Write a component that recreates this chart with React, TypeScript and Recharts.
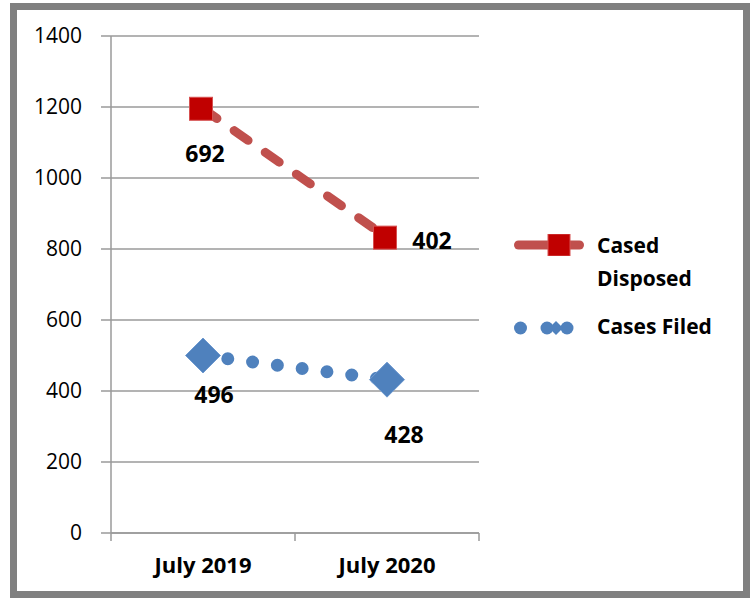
import { CartesianGrid, LabelList, Line, LineChart, XAxis, YAxis } from 'recharts'

const categories = ['July 2019', 'July 2020']
const casesDisposed = [1195, 832]
const casesDisposedLabels = [692, 402]
const casesFiled = [500, 432]
const casesFiledLabels = [496, 428]
const yTicks = [0, 200, 400, 600, 800, 1000, 1200, 1400]

const data = categories.map((month, i) => ({
  month,
  disposed: casesDisposed[i],
  disposedLabel: casesDisposedLabels[i],
  filed: casesFiled[i],
  filedLabel: casesFiledLabels[i],
}))

const FONT = '"Open Sans", sans-serif'
const GRID = '#9a9a9a'
const RED_LINE = '#C0504D'
const RED_MARK = '#C00000'
const BLUE = '#4F81BD'

const CHART_W = 726
const CHART_H = 581
const MARGIN = { top: 26, right: 264, bottom: 0, left: 0 }
const Y_W = 94
const PLOT_W = CHART_W - MARGIN.left - MARGIN.right - Y_W

// label offsets from each point (text centre), per series
const disposedOffsets = [
  [2, 44],
  [45, 2],
]
const filedOffsets = [
  [11, 38],
  [17, 54],
]

function MonthTick(props: any) {
  const { x, y, payload, index } = props
  const half = PLOT_W / categories.length / 2
  return (
    <g>
      {index === 0 && (
        <line x1={x - half} x2={x - half} y1={y} y2={y + 8} stroke={GRID} strokeWidth={1.5} />
      )}
      <line x1={x + half} x2={x + half} y1={y} y2={y + 8} stroke={GRID} strokeWidth={1.5} />
      <text
        x={x}
        y={y + 40}
        textAnchor="middle"
        fontFamily={FONT}
        fontWeight={700}
        fontSize={22}
        fill="#000"
      >
        {payload.value}
      </text>
    </g>
  )
}

const squareDot = (props: any) => {
  const { cx, cy, index } = props
  return (
    <rect
      key={`sq-${index}`}
      x={cx - 13.5}
      y={cy - 11.5}
      width={23}
      height={23}
      fill={RED_MARK}
      stroke="#d65050"
      strokeWidth={1}
    />
  )
}

const diamondDot = (props: any) => {
  const { cx, cy, index } = props
  const r = 17.5
  return (
    <path
      key={`dm-${index}`}
      d={`M${cx},${cy - r} L${cx + r},${cy} L${cx},${cy + r} L${cx - r},${cy} Z`}
      fill={BLUE}
      stroke="#6f9ad0"
      strokeWidth={1}
    />
  )
}

const makeLabel = (offsets: number[][]) => (props: any) => {
  const { x, y, value, index } = props
  const [dx, dy] = offsets[index] ?? [0, 0]
  return (
    <text
      key={`lb-${index}`}
      x={x + dx}
      y={y + dy}
      textAnchor="middle"
      dominantBaseline="central"
      fontFamily={FONT}
      fontWeight={700}
      fontSize={23}
      fill="#000"
    >
      {value}
    </text>
  )
}

const legendText: React.CSSProperties = {
  position: 'absolute',
  left: 580,
  fontFamily: FONT,
  fontWeight: 700,
  fontSize: 21,
  lineHeight: '33px',
  color: '#000',
  whiteSpace: 'nowrap',
}

export default function App() {
  return (
    <div
      style={{
        position: 'absolute',
        left: 10,
        top: 3,
        width: 740,
        height: 595,
        border: '7px solid #808080',
        boxSizing: 'border-box',
        background: '#fff',
        fontFamily: FONT,
      }}
    >
      <LineChart width={CHART_W} height={CHART_H} data={data} margin={MARGIN}>
        <CartesianGrid vertical={false} stroke={GRID} strokeWidth={1.5} />
        <XAxis
          dataKey="month"
          scale="band"
          height={58}
          axisLine={{ stroke: GRID, strokeWidth: 1.5 }}
          tickLine={false}
          tickSize={0}
          tickMargin={0}
          interval={0}
          tick={<MonthTick />}
        />
        <YAxis
          domain={[0, 1400]}
          ticks={yTicks}
          interval={0}
          width={Y_W}
          tickSize={10}
          tickMargin={19}
          axisLine={{ stroke: GRID, strokeWidth: 1.5 }}
          tickLine={{ stroke: GRID, strokeWidth: 1.5 }}
          tick={{ fontSize: 21, fill: '#000', fontFamily: FONT }}
        />
        <Line
          dataKey="filed"
          name="Cases Filed"
          stroke={BLUE}
          strokeWidth={13}
          strokeDasharray="0 25"
          strokeLinecap="round"
          dot={diamondDot}
          activeDot={false}
          isAnimationActive={false}
        >
          <LabelList dataKey="filedLabel" content={makeLabel(filedOffsets)} />
        </Line>
        <Line
          dataKey="disposed"
          name="Cased Disposed"
          stroke={RED_LINE}
          strokeWidth={9}
          strokeDasharray="17 21"
          strokeLinecap="round"
          dot={squareDot}
          activeDot={false}
          isAnimationActive={false}
        >
          <LabelList dataKey="disposedLabel" content={makeLabel(disposedOffsets)} />
        </Line>
      </LineChart>

      {/* legend */}
      <svg style={{ position: 'absolute', left: 497, top: 224 }} width={72} height={22}>
        <line x1={4.5} x2={65.5} y1={11} y2={11} stroke={RED_LINE} strokeWidth={9} strokeLinecap="round" />
        <rect x={34} y={0} width={22} height={22} fill={RED_MARK} stroke="#d65050" strokeWidth={1} />
      </svg>
      <div style={{ ...legendText, top: 218.5 }}>
        Cased
        <br />
        Disposed
      </div>
      <svg style={{ position: 'absolute', left: 497, top: 307 }} width={72} height={22}>
        <circle cx={6.5} cy={11} r={6.5} fill={BLUE} />
        <circle cx={33} cy={11} r={6.5} fill={BLUE} />
        <circle cx={53} cy={11} r={6.5} fill={BLUE} />
        <path d="M42,4 L49,11 L42,18 L35,11 Z" fill={BLUE} />
      </svg>
      <div style={{ ...legendText, top: 299.5 }}>Cases Filed</div>
    </div>
  )
}
